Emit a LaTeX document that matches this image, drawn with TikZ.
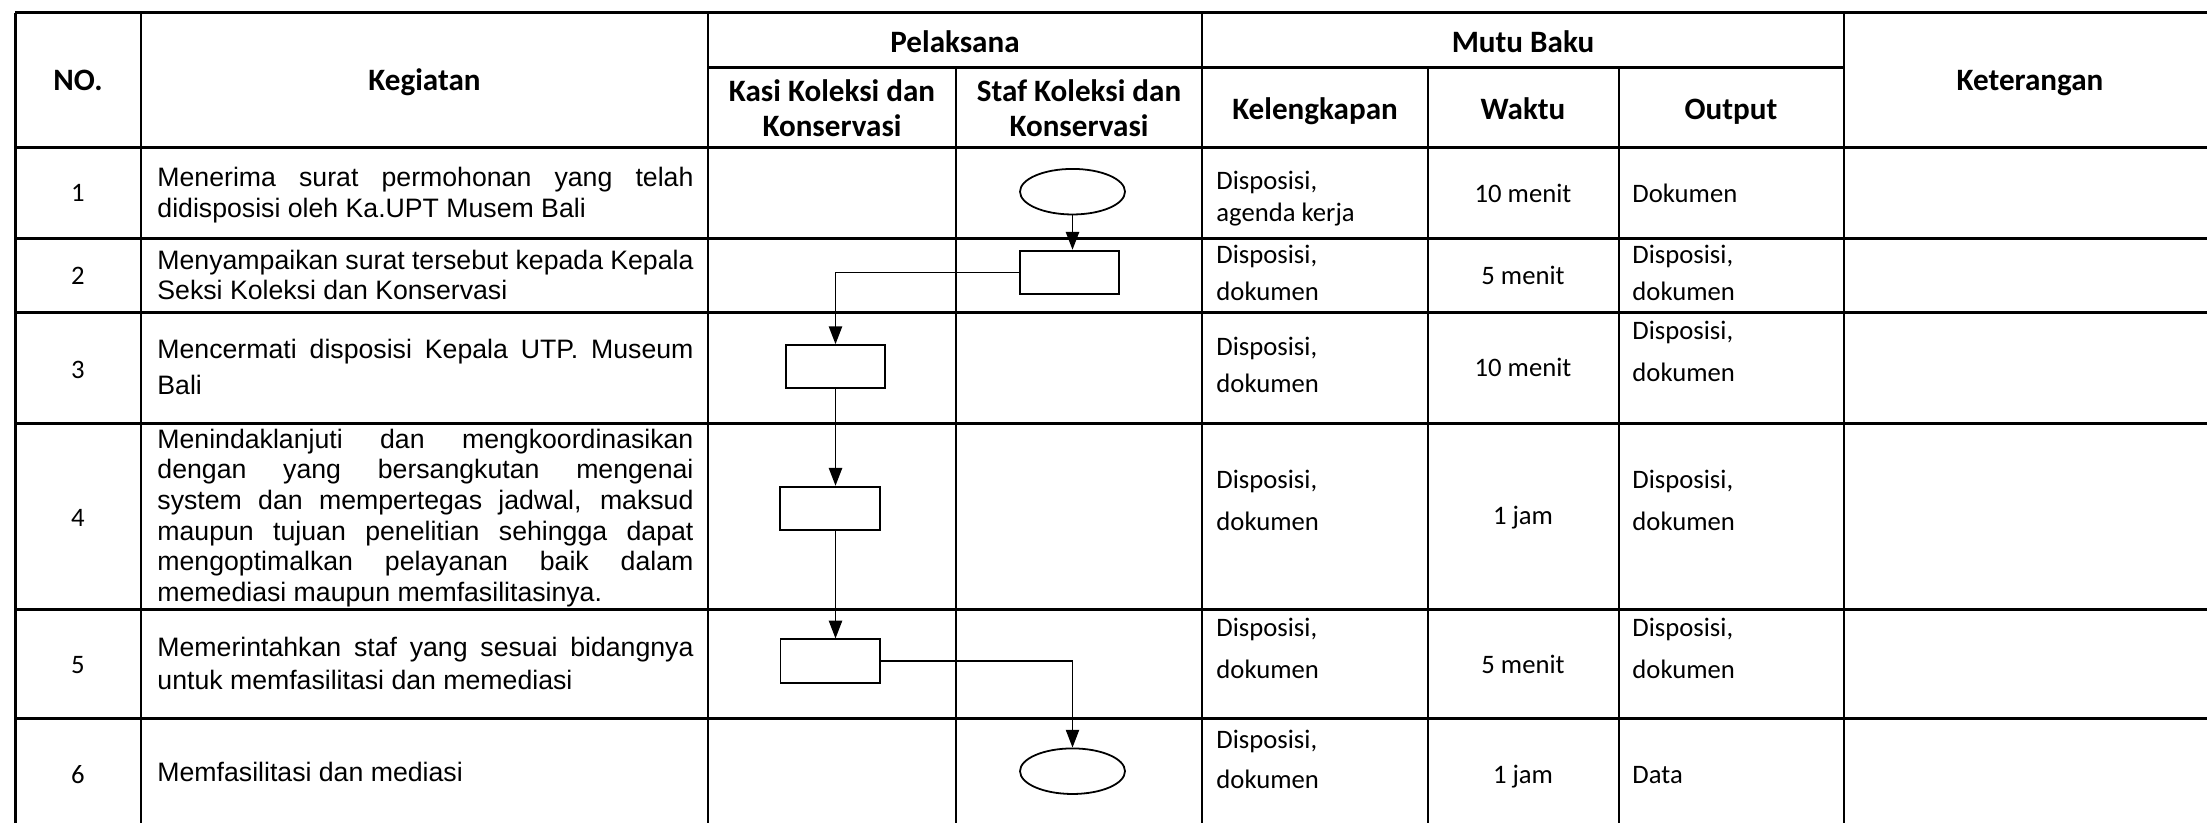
\documentclass[tikz,border=0pt]{standalone}
\usepackage{fontspec}
\setmainfont{Carlito}
\newfontfamily\arialf{Liberation Sans}
\usetikzlibrary{shapes.geometric,arrows.meta}
\hyphenpenalty=10000
\exhyphenpenalty=10000
\tolerance=10000
\begin{document}
\begin{tikzpicture}[x=0.45pt,y=-0.45pt,
  hline/.style={line width=1.35pt},
  vline/.style={line width=0.9pt},
  hdr/.style={font=\bfseries\fontsize{14}{15.75}\selectfont, inner sep=0pt, anchor=base},
  hdrtwo/.style={hdr, text width=160pt, align=flush center},
  numtxt/.style={font=\fontsize{12}{14.4}\selectfont, inner sep=0pt, anchor=base},
  acttxt/.style={font=\arialf\fontsize{12}{#1}\selectfont, inner sep=0pt, anchor=base west, text width=241.2pt, align=justify},
  acttxt/.default=13.8pt,
  caltxt/.style={font=\fontsize{12}{#1}\selectfont, inner sep=0pt, anchor=base west, text width=90pt, align=flush left},
  caltxt/.default=14.4pt,
  ctrtxt/.style={font=\fontsize{12}{14.4}\selectfont, inner sep=0pt, anchor=base},
  procbox/.style={draw, line width=0.8pt, rectangle, minimum width=44.8pt, minimum height=19.5pt, inner sep=0pt},
  termell/.style={draw, line width=0.8pt, ellipse, minimum width=47.25pt, minimum height=20.5pt, inner sep=0pt},
  flow/.style={line width=0.6pt, -{Triangle[length=8pt,width=6pt]}}
]
\useasboundingbox (0,0) rectangle (2207,823);

% table grid
\draw[hline] (15,13) -- (2207,13);
\foreach \yy in {148,239,313,424,609,718} \draw[hline] (15,\yy) -- (2207,\yy);
\draw[hline] (708,68) -- (1844,68);
\draw[hline] (15,13) -- (15,823);
\foreach \xx in {141,708,1202,1844} \draw[vline] (\xx,13) -- (\xx,823);
\foreach \xx in {956,1428,1618.5} \draw[vline] (\xx,68) -- (\xx,823);

% headers
\node[hdr] (hno) at (78,91) {NO.};
\node[hdr] (hkeg) at (424.5,91) {Kegiatan};
\node[hdr] (hpel) at (955,53) {Pelaksana};
\node[hdr] (hmutu) at (1523,53) {Mutu Baku};
\node[hdrtwo] (hkasi) at (832,102) {Kasi Koleksi dan\\Konservasi};
\node[hdrtwo] (hstaf) at (1079,102) {Staf Koleksi dan\\Konservasi};
\node[hdr] (hkel) at (1315,119.5) {Kelengkapan};
\node[hdr] (hwak) at (1523,119.5) {Waktu};
\node[hdr] (hout) at (1731,119.5) {Output};
\node[hdr] (hket) at (2030,91) {Keterangan};

% numbers
\node[numtxt] (n1) at (78,202) {1};
\node[numtxt] (n2) at (78,285) {2};
\node[numtxt] (n3) at (78,378.5) {3};
\node[numtxt] (n4) at (78,527) {4};
\node[numtxt] (n5) at (78,673.5) {5};
\node[numtxt] (n6) at (78,783.5) {6};

% activities
\node[acttxt] (a1) at (157,186.7) {Menerima surat permohonan yang telah\linebreak didisposisi oleh Ka.UPT Musem Bali};
\node[acttxt] (a2) at (157,269.3) {Menyampaikan surat tersebut kepada Kepala\linebreak Seksi Koleksi dan Konservasi};
\node[acttxt=16.5pt] (a3) at (157,358.3) {Mencermati disposisi Kepala UTP. Museum\linebreak Bali};
\node[acttxt] (a4) at (157,448.3) {Menindaklanjuti dan mengkoordinasikan\linebreak dengan yang bersangkutan mengenai\linebreak system dan mempertegas jadwal, maksud\linebreak maupun tujuan penelitian sehingga dapat\linebreak mengoptimalkan pelayanan baik dalam\linebreak memediasi maupun memfasilitasinya.};
\node[acttxt=14.9pt] (a5) at (157,656.7) {Memerintahkan staf yang sesuai bidangnya\linebreak untuk memfasilitasi dan memediasi};
\node[acttxt] (a6) at (157,781.7) {Memfasilitasi dan mediasi};

% kelengkapan
\node[caltxt=14.4pt] (k1) at (1216,190) {Disposisi,\\agenda kerja};
\node[caltxt=16.5pt] (k2) at (1216,264) {Disposisi,\\dokumen};
\node[caltxt=16.5pt] (k3) at (1216,356) {Disposisi,\\dokumen};
\node[caltxt=18.8pt] (k4) at (1216,488.3) {Disposisi,\\dokumen};
\node[caltxt=18.8pt] (k5) at (1216,636.7) {Disposisi,\\dokumen};
\node[caltxt=18pt] (k6) at (1216,748.3) {Disposisi,\\dokumen};

% waktu
\node[ctrtxt] (w1) at (1523,202.7) {10 menit};
\node[ctrtxt] (w2) at (1523,285) {5 menit};
\node[ctrtxt] (w3) at (1523,376.7) {10 menit};
\node[ctrtxt] (w4) at (1523,525) {1 jam};
\node[ctrtxt] (w5) at (1523,673.3) {5 menit};
\node[ctrtxt] (w6) at (1523,783.3) {1 jam};

% output
\node[caltxt] (o1) at (1632,202.7) {Dokumen};
\node[caltxt=16.5pt] (o2) at (1632,264) {Disposisi,\\dokumen};
\node[caltxt=18.8pt] (o3) at (1632,340) {Disposisi,\\dokumen};
\node[caltxt=18.8pt] (o4) at (1632,488.3) {Disposisi,\\dokumen};
\node[caltxt=18.8pt] (o5) at (1632,636.7) {Disposisi,\\dokumen};
\node[caltxt] (o6) at (1632,783.3) {Data};

% flowchart
\node[termell] (e1) at (1072.5,191.7) {};
\node[procbox] (b2) at (1069.5,272.3) {};
\node[procbox] (b3) at (835.5,366.7) {};
\node[procbox] (b4) at (830,508.3) {};
\node[procbox] (b5) at (830.3,661) {};
\node[termell] (e6) at (1072.5,771.2) {};

\draw[flow] (e1.south) -- (e1.south |- b2.north);
\draw[flow] (b2.west) -| (b3.north);
\draw[flow] (b3.south) -- (b3.south |- b4.north);
\draw[flow] (b3.south |- b4.south) -- (b3.south |- b5.north);
\draw[flow] (b5.east) -| (e6.north);
\end{tikzpicture}
\end{document}
